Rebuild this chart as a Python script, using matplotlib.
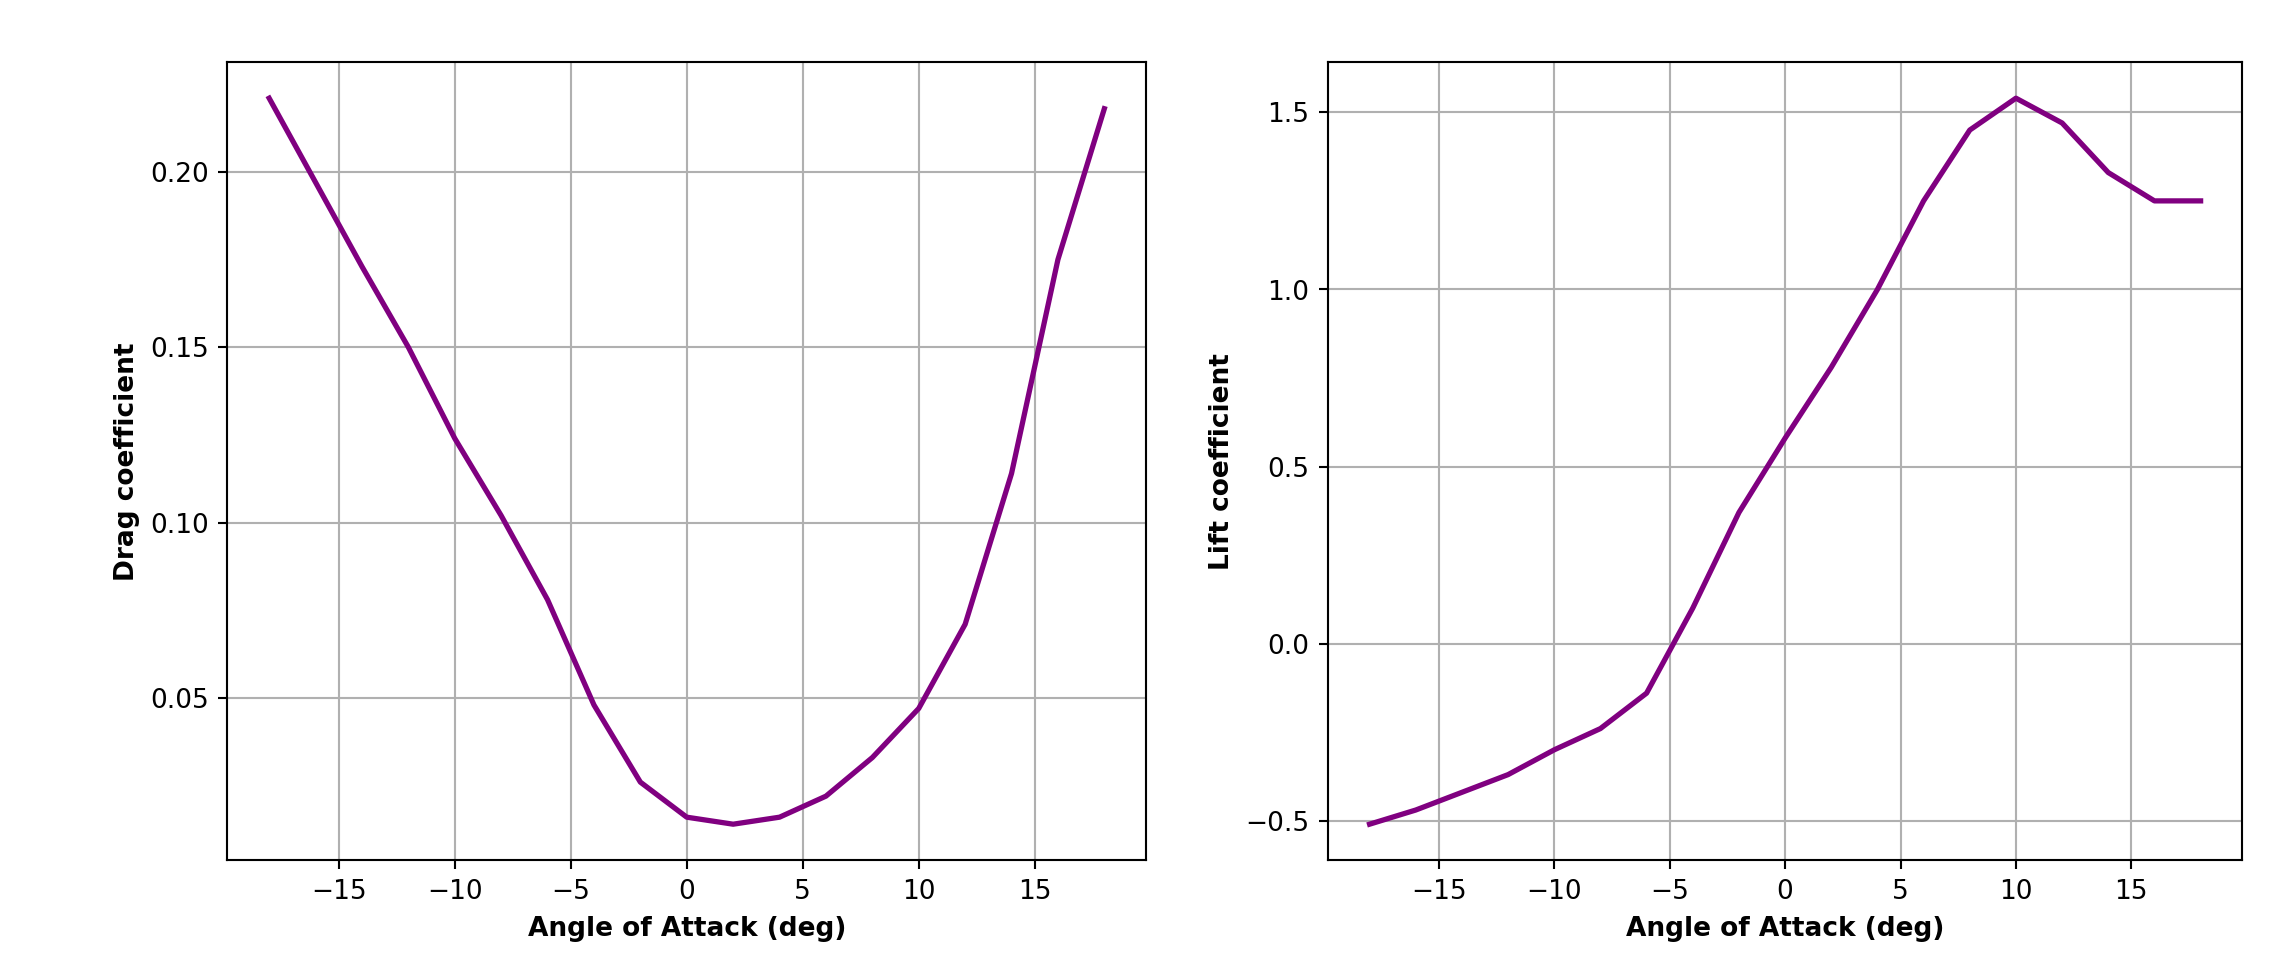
import matplotlib
matplotlib.use("Agg")
import matplotlib.pyplot as plt

alpha = [-18, -16, -14, -12, -10, -8, -6, -4, -2, 0, 2, 4, 6, 8, 10, 12, 14, 16, 18]
cd = [0.221, 0.197, 0.173, 0.150, 0.124, 0.102, 0.078, 0.048, 0.026, 0.016, 0.014,
      0.016, 0.022, 0.033, 0.047, 0.071, 0.114, 0.175, 0.218]
cl = [-0.51, -0.47, -0.42, -0.37, -0.30, -0.24, -0.14, 0.10, 0.37, 0.58, 0.78,
      1.00, 1.25, 1.45, 1.54, 1.47, 1.33, 1.25, 1.25]

fig = plt.figure(figsize=(12, 5.035), dpi=189.5)
ax1 = fig.add_axes([0.100, 0.098, 0.404, 0.837])
ax2 = fig.add_axes([0.584, 0.098, 0.402, 0.837])

for ax, y, lab in [(ax1, cd, "Drag coefficient"), (ax2, cl, "Lift coefficient")]:
    ax.plot(alpha, y, color="purple", linewidth=2)
    ax.grid(True)
    ax.set_xlabel("Angle of Attack (deg)", fontweight="bold")
    ax.set_ylabel(lab, fontweight="bold")

fig.savefig("out.png", dpi=189.5)
